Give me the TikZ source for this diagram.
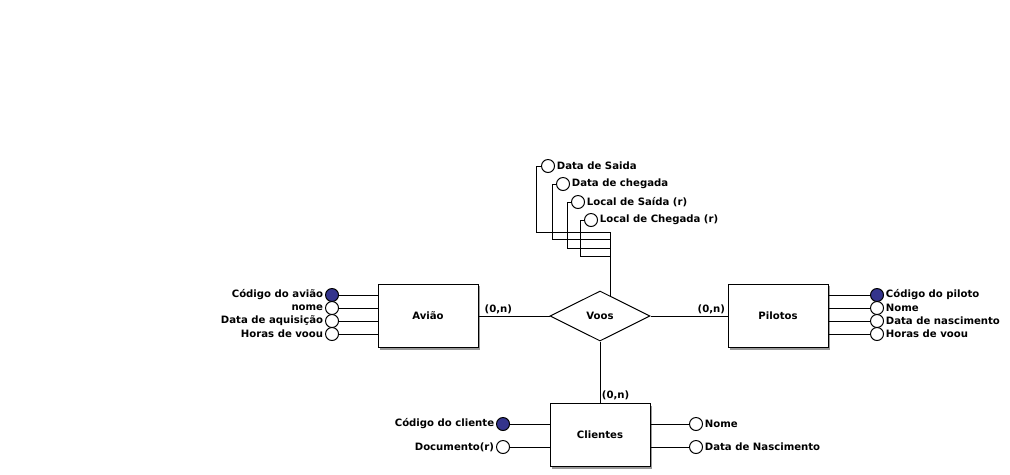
\documentclass[tikz,border=0pt]{standalone}
\usepackage{fontspec}
\setmainfont{DejaVu Sans}
\usepackage{tikz}
\usetikzlibrary{shapes.geometric}
\usetikzlibrary{shadows,calc}
\definecolor{keyblue}{RGB}{52,52,140}

\begin{document}
\begin{tikzpicture}[x=0.025cm,y=-0.025cm,line width=0.7pt,
    every node/.style={font=\fontsize{7.2}{8.5}\selectfont\bfseries},
    entity/.style={draw,fill=white,minimum width=2.5cm,minimum height=1.575cm,
      drop shadow={shadow xshift=0.05cm,shadow yshift=-0.05cm,fill=black!40,opacity=1}},
    relation/.style={draw,fill=white,diamond,aspect=2,inner sep=0pt,
      minimum width=2.5cm,minimum height=1.25cm},
    attr/.style={draw,circle,fill=white,inner sep=0pt,minimum size=0.325cm},
    keyattr/.style={attr,fill=keyblue},
    card/.style={inner sep=1pt}]
    \useasboundingbox (0,0) rectangle (1010,474);
    % Entities and relationship
    \node[entity] (aviao) at (428,316) {Avião};
    \node[entity] (pilotos) at (778,316) {Pilotos};
    \node[entity] (clientes) at (600,435) {Clientes};
    \node[relation] (voos) at (600,316) {Voos};
    % Attributes of Avião
    \node[keyattr,label={[inner sep=1pt]left:Código do avião}] (av1) at (332,295) {};
    \node[attr,label={[inner sep=1pt]left:nome}] (av2) at (332,308) {};
    \node[attr,label={[inner sep=1pt]left:Data de aquisição}] (av3) at (332,321) {};
    \node[attr,label={[inner sep=1pt]left:Horas de voou}] (av4) at (332,334) {};
    \foreach \i in {1,...,4}
      \draw (av\i.east) -- (av\i.east -| aviao.west);
    % Attributes of Pilotos
    \node[keyattr,label={[inner sep=1pt]right:Código do piloto}] (pi1) at (877,295) {};
    \node[attr,label={[inner sep=1pt]right:Nome}] (pi2) at (877,308) {};
    \node[attr,label={[inner sep=1pt]right:Data de nascimento}] (pi3) at (877,321) {};
    \node[attr,label={[inner sep=1pt]right:Horas de voou}] (pi4) at (877,334) {};
    \foreach \i in {1,...,4}
      \draw (pi\i.west) -- (pi\i.west -| pilotos.east);
    % Attributes of Clientes
    \node[keyattr,label={[inner sep=1pt]left:Código do cliente}] (cl1) at (503,424) {};
    \node[attr,label={[inner sep=1pt]left:Documento(r)}] (cl2) at (503,447) {};
    \node[attr,label={[inner sep=1pt]right:Nome}] (cl3) at (696,424) {};
    \node[attr,label={[inner sep=1pt]right:Data de Nascimento}] (cl4) at (696,447) {};
    \draw (cl1.east) -- (cl1.east -| clientes.west);
    \draw (cl2.east) -- (cl2.east -| clientes.west);
    \draw (cl3.west) -- (cl3.west -| clientes.east);
    \draw (cl4.west) -- (cl4.west -| clientes.east);
    % Attributes of Voos
    \node[attr,label={[inner sep=1pt]right:Data de Saida}] (vo1) at (548,166) {};
    \node[attr,label={[inner sep=1pt]right:Data de chegada}] (vo2) at (563,184) {};
    \node[attr,label={[inner sep=1pt]right:Local de Saída (r)}] (vo3) at (578,202) {};
    \node[attr,label={[inner sep=1pt]right:Local de Chegada (r)}] (vo4) at (591,220) {};
    \coordinate (vtop) at ($(voos.north)!0.2!(voos.east)$);
    \coordinate (vb1) at (vtop |- 0,232);
    \coordinate (vb2) at (vtop |- 0,239);
    \coordinate (vb3) at (vtop |- 0,248);
    \coordinate (vb4) at (vtop |- 0,256);
    \draw (vo1.west) -- ++(-4.5,0) |- (vb1);
    \draw (vo2.west) -- ++(-3.5,0) |- (vb2);
    \draw (vo3.west) -- ++(-3.5,0) |- (vb3);
    \draw (vo4.west) -- ++(-3.5,0) |- (vb4);
    \draw (vb1) -- (vtop);
    % Relationship lines
    \draw (aviao.east) -- (voos.west) node[card,above,pos=0.28] {(0,n)};
    \draw (voos.east) -- (pilotos.west) node[card,above,pos=0.79] {(0,n)};
    \draw (voos.south) -- (clientes.north) node[card,right,pos=0.88] {(0,n)};
\end{tikzpicture}
\end{document}
